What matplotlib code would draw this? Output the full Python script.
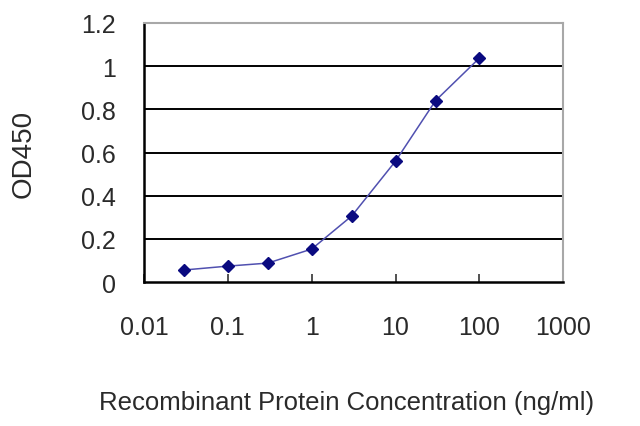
import matplotlib
matplotlib.use("Agg")
import matplotlib.pyplot as plt
from matplotlib.ticker import FixedLocator, FixedFormatter, NullLocator

# concentrations (ng/ml) and OD450 readings
conc = [0.03, 0.1, 0.3, 1, 3, 10, 30, 100]
od450 = [0.056, 0.074, 0.088, 0.153, 0.306, 0.56, 0.84, 1.037]

xticks = [0.01, 0.1, 1, 10, 100, 1000]
xtick_labels = ["0.01", "0.1", "1", "10", "100", "1000"]
yticks = [0, 0.2, 0.4, 0.6, 0.8, 1, 1.2]
ytick_labels = ["0", "0.2", "0.4", "0.6", "0.8", "1", "1.2"]

plt.rcParams['font.family'] = ['Liberation Sans', 'DejaVu Sans']
txt_col = "#2a2a2a"

fig = plt.figure(figsize=(6.4, 4.27), dpi=100)
ax = fig.add_axes([0.225, 0.337, 0.655, 0.607])

# gridlines
for y in yticks[1:-1]:
    ax.axhline(y, color="black", lw=1.4, zorder=1)

ax.plot(conc, od450, color="#5050b0", lw=1.1, zorder=2)
ax.plot(conc, od450, ls="none", marker="D", ms=6.5, color="#0a0a80", zorder=3)

ax.set_xscale("log")
ax.set_xlim(0.01, 1000)
ax.set_ylim(0, 1.2)
ax.xaxis.set_major_locator(FixedLocator(xticks))
ax.xaxis.set_major_formatter(FixedFormatter(xtick_labels))
ax.xaxis.set_minor_locator(NullLocator())
ax.set_yticks(yticks)
ax.set_yticklabels(ytick_labels)

ax.tick_params(axis="x", direction="in", length=6, width=1.2, pad=24,
               labelsize=18, labelcolor=txt_col, color="#333333")
ax.tick_params(axis="y", length=0, pad=20, labelsize=18, labelcolor=txt_col)

for s in ["left", "bottom"]:
    ax.spines[s].set_color("black")
    ax.spines[s].set_linewidth(1.8)
for s in ["top", "right"]:
    ax.spines[s].set_color("#a8a8a8")
    ax.spines[s].set_linewidth(1.5)

ax.set_xlabel("Recombinant Protein Concentration (ng/ml)", fontsize=18.5,
              color=txt_col)
ax.xaxis.set_label_coords(0.483, -0.415)
ax.set_ylabel("OD450", fontsize=20, color=txt_col, labelpad=32)

fig.savefig("out.png", dpi=100)
